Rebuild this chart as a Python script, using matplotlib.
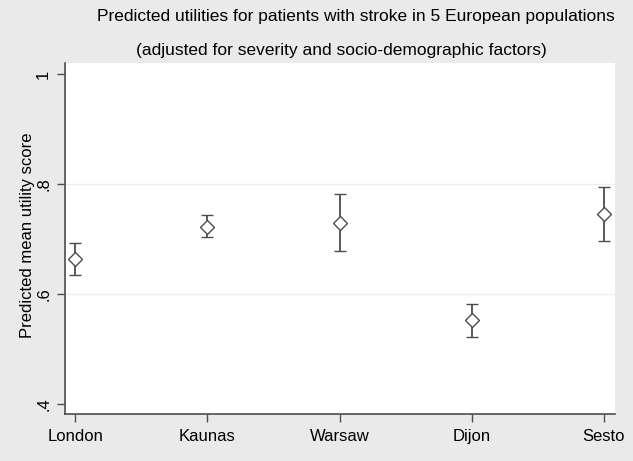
import matplotlib
matplotlib.use("Agg")
import matplotlib.pyplot as plt
import numpy as np

# Predicted mean utility with 95% CI
centres = ['London', 'Kaunas', 'Warsaw', 'Dijon', 'Sesto']
means = [0.663, 0.722, 0.730, 0.552, 0.746]
lower = [0.635, 0.704, 0.679, 0.522, 0.696]
upper = [0.693, 0.744, 0.781, 0.582, 0.795]
yticks = [0.4, 0.6, 0.8, 1.0]
ytick_labels = ['.4', '.6', '.8', '1']

plt.rcParams['font.family'] = ['Liberation Sans', 'DejaVu Sans']

bg = '#eaeaea'
ink = '#4d4d4d'

fig = plt.figure(figsize=(6.33, 4.61), dpi=100, facecolor=bg)
ax = fig.add_axes([65/633, 1 - 414/461, (615 - 65)/633, (414 - 63)/461])
ax.set_facecolor('white')

x = np.arange(1, len(centres) + 1)
m = np.array(means)
err = [m - np.array(lower), np.array(upper) - m]
ax.errorbar(x, m, yerr=err, fmt='D', markersize=7, markerfacecolor='white',
            markeredgecolor=ink, markeredgewidth=1.0, ecolor=ink, elinewidth=1.3,
            capsize=4.5, capthick=1.3, color=ink, zorder=3)

ax.set_xlim(0.922, 5.083)
ax.set_ylim(0.382, 1.02)

ax.set_xticks(x)
ax.set_xticklabels(centres, fontsize=12)
ax.set_yticks(yticks)
ax.set_yticklabels(ytick_labels, fontsize=12, rotation=90, va='center')
ax.tick_params(axis='both', colors=ink, labelcolor='black', length=6, width=1)
ax.tick_params(axis='x', pad=5)
ax.tick_params(axis='y', pad=4)

for yv in [0.6, 0.8]:
    ax.axhline(yv, color='#efefef', linewidth=1.0, zorder=1)

for side in ['top', 'right']:
    ax.spines[side].set_visible(False)
for side in ['left', 'bottom']:
    ax.spines[side].set_color(ink)
    ax.spines[side].set_linewidth(1.2)

ax.set_ylabel('Predicted mean utility score', fontsize=12)
ax.yaxis.set_label_coords(-30/550, 0.51)

fig.text(356/633, 1 - 16/461, 'Predicted utilities for patients with stroke in 5 European populations',
         ha='center', va='center', fontsize=12.5)
fig.text(341/633, 1 - 51/461, '(adjusted for severity and socio-demographic factors)',
         ha='center', va='center', fontsize=12.5)

fig.savefig('out.png', dpi=100, facecolor=bg)
